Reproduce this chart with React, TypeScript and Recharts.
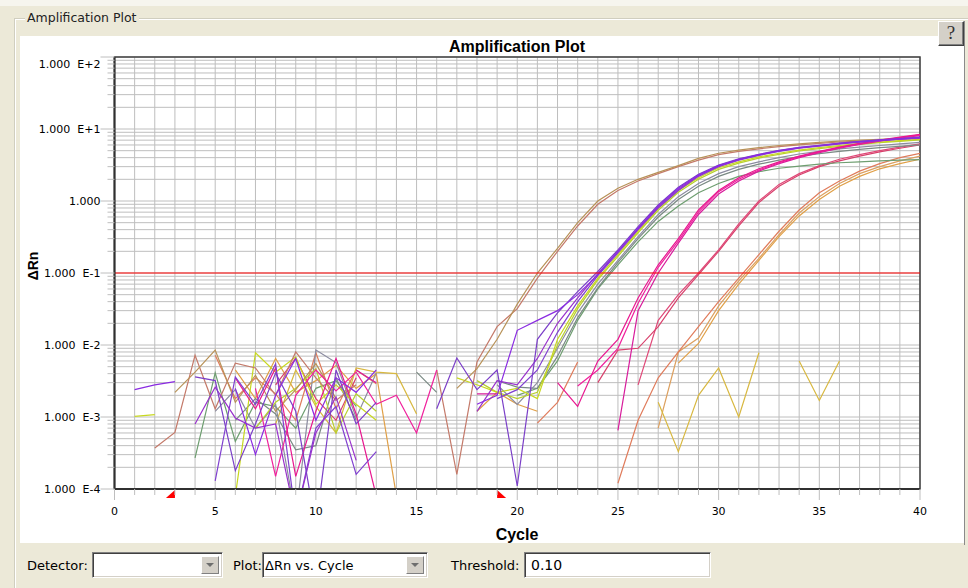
import React from 'react';
import {
  LineChart,
  Line,
  XAxis,
  YAxis,
  CartesianGrid,
  ReferenceLine,
  ReferenceArea,
  ReferenceDot,
} from 'recharts';

const n = null;

const cycles = [1, 2, 3, 4, 5, 6, 7, 8, 9, 10, 11, 12, 13, 14, 15, 16, 17, 18, 19, 20,
  21, 22, 23, 24, 25, 26, 27, 28, 29, 30, 31, 32, 33, 34, 35, 36, 37, 38, 39, 40];

const purple1 = [0.0024, 0.0028, 0.0031, n, n, 0.0025, 0.0003, 0.002, 0.0065, 0.0009, 0.0035, 0.0022, 0.0045, n, n, n, n, 0.0015, 0.002, 0.016, 0.022, 0.03, 0.05, 0.095, 0.2, 0.42, 0.85, 1.5, 2.3, 3.1, 3.8, 4.4, 5.0, 5.5, 5.9, 6.3, 6.7, 7.0, 7.3, 7.6];
const purple2 = [n, n, n, 0.0036, 0.0032, 0.00018, 0.0008, 0.0041, 0.0012, 0.00003, 0.0045, 0.0008, 0.0016, n, n, 0.0013, 0.0066, 0.0024, 0.0045, 0.00011, 0.012, 0.028, 0.055, 0.105, 0.21, 0.44, 0.88, 1.55, 2.35, 3.15, 3.85, 4.45, 5.05, 5.55, 5.95, 6.35, 6.75, 7.05, 7.35, 7.7];
const purple3 = [n, n, n, 0.0008, 0.0026, 0.00097, 0.0007, 0.0008, 0.00004, 0.0006, 0.0019, 0.00025, n, n, n, n, n, 0.0012, 0.0032, 0.0028, 0.0065, 0.02, 0.045, 0.098, 0.2, 0.41, 0.83, 1.45, 2.25, 3.05, 3.75, 4.35, 4.95, 5.45, 5.85, 6.25, 6.6, 6.95, 7.25, 7.55];
const purple4 = [n, n, n, n, 0.00013, 0.0036, 0.0015, 0.0055, 0.00004, 0.0007, 0.0014, 0.00016, 0.00033, n, n, n, n, n, 0.0018, 0.0024, 0.0045, 0.015, 0.04, 0.092, 0.19, 0.4, 0.8, 1.4, 2.2, 3.0, 3.7, 4.3, 4.9, 5.4, 5.8, 6.2, 6.55, 6.9, 7.2, 7.5];
const yellowGreen1 = [0.00102, 0.00108, n, n, n, 0.00008, 0.0078, 0.0042, 0.0068, 0.0015, 0.0028, 0.0015, 0.0009, n, n, n, 0.0035, 0.0028, 0.0022, 0.0025, 0.0018, 0.012, 0.035, 0.085, 0.18, 0.38, 0.78, 1.4, 2.1, 2.9, 3.5, 4.1, 4.6, 5.1, 5.5, 5.9, 6.3, 6.6, 6.9, 7.2];
const yellowGreen2 = [n, n, n, n, n, n, 0.0007, 0.0016, 0.0025, 0.0047, 0.0006, 0.0021, 0.0012, n, n, n, n, 0.0032, 0.0022, 0.0018, 0.0022, 0.01, 0.032, 0.08, 0.17, 0.36, 0.74, 1.32, 2.0, 2.75, 3.35, 3.95, 4.45, 4.95, 5.35, 5.75, 6.1, 6.45, 6.75, 7.05];
const gray1 = [n, n, n, n, 0.0012, 0.0024, 0.0007, 0.0015, 0.00004, 0.0085, 0.0057, 0.00098, 0.0041, n, n, n, n, n, 0.0028, 0.0015, 0.003, 0.009, 0.028, 0.07, 0.15, 0.32, 0.65, 1.15, 1.75, 2.4, 3.0, 3.5, 4.0, 4.5, 4.9, 5.3, 5.6, 5.9, 6.2, 6.5];
const gray2 = [n, n, n, n, n, 0.0009, 0.0018, 0.0011, 0.00035, 0.0004, 0.0035, 0.0009, n, n, 0.0042, 0.0022, n, n, 0.0032, 0.0026, 0.0025, 0.007, 0.024, 0.062, 0.14, 0.3, 0.6, 1.05, 1.6, 2.2, 2.75, 3.25, 3.7, 4.15, 4.55, 4.9, 5.2, 5.5, 5.75, 6.0];
const green1 = [n, n, n, 0.00027, 0.0041, 0.00046, 0.0016, 0.0014, 0.0007, 0.0025, 0.0032, 0.0014, n, n, n, n, n, n, n, 0.002, 0.0025, 0.006, 0.022, 0.06, 0.13, 0.27, 0.52, 0.85, 1.3, 1.75, 2.2, 2.55, 2.85, 3.05, 3.25, 3.4, 3.5, 3.6, 3.7, 3.75];
const tan1 = [n, n, 0.0022, 0.0042, 0.0085, 0.0016, 0.0038, 0.0012, 0.0024, 0.0055, 0.0018, n, n, n, n, n, 0.0025, 0.0047, 0.012, 0.037, 0.1, 0.22, 0.5, 1.0, 1.5, 2.0, 2.5, 3.1, 3.9, 4.6, 5.1, 5.5, 5.9, 6.2, 6.5, 6.8, 7.0, 7.2, 7.4, 7.6];
const brownPink1 = [n, 0.00037, 0.00061, 0.0072, 0.0013, 0.0056, 0.0048, 0.002, 0.008, 0.0035, 0.0017, 0.0028, n, n, n, 0.0045, 0.00016, 0.0058, 0.018, 0.032, 0.085, 0.2, 0.45, 0.9, 1.4, 1.9, 2.4, 3.0, 3.7, 4.4, 4.9, 5.3, 5.7, 6.0, 6.3, 6.6, 6.8, 7.0, 7.2, 7.4];
const magenta1 = [n, n, n, n, n, 0.0035, 0.0013, 0.0048, 0.00015, 0.0012, 0.0065, 0.0011, 0.00008, n, n, n, n, n, n, n, n, 0.003, 0.0014, 0.006, 0.012, 0.045, 0.13, 0.3, 0.75, 1.4, 2.1, 2.8, 3.5, 4.2, 4.9, 5.6, 6.3, 7.0, 7.7, 8.4];
const magenta2 = [n, n, n, n, n, n, 0.0025, 0.00015, 0.002, 0.0045, 0.0023, 0.0042, 0.0015, 0.002, 0.0006, 0.0045, n, n, n, n, n, n, 0.0027, 0.0045, 0.009, 0.038, 0.12, 0.28, 0.7, 1.35, 2.0, 2.7, 3.4, 4.1, 4.8, 5.5, 6.2, 6.9, 7.6, 8.3];
const magenta3 = [n, n, n, n, n, n, n, n, n, n, n, 0.0045, 0.003, n, n, n, n, 0.0021, 0.0021, n, n, n, n, n, 0.00065, 0.03, 0.1, 0.26, 0.65, 1.25, 1.9, 2.6, 3.3, 4.0, 4.7, 5.4, 6.1, 6.8, 7.5, 8.1];
const crimson1 = [n, n, n, n, n, n, n, 0.0028, 0.0065, 0.0018, 0.0009, 0.0035, n, n, n, n, n, n, n, n, n, n, n, 0.003, 0.0085, 0.009, 0.018, 0.045, 0.095, 0.2, 0.45, 0.95, 1.6, 2.3, 3.0, 3.6, 4.2, 4.8, 5.4, 6.0];
const crimson2 = [n, n, n, n, n, n, n, n, n, n, n, n, n, n, n, n, n, n, n, n, n, n, n, n, n, 0.0028, 0.022, 0.05, 0.1, 0.21, 0.48, 1.0, 1.7, 2.4, 3.1, 3.8, 4.4, 5.0, 5.6, 6.2];
const salmon1 = [n, n, n, n, 0.0072, 0.0018, 0.0035, 0.0021, 0.0009, 0.0078, 0.0013, 0.0045, 0.0029, n, n, n, n, n, n, n, 0.00082, 0.0016, 0.0058, n, 0.00012, 0.0009, 0.0035, 0.008, 0.018, 0.04, 0.085, 0.18, 0.38, 0.75, 1.3, 1.9, 2.6, 3.3, 4.0, 4.6];
const orange1 = [n, n, n, n, n, 0.0045, 0.0018, 0.0065, 0.0022, 0.0032, 0.0052, 0.0025, 0.004, 0.00008, n, n, n, 0.0012, 0.0022, 0.0015, 0.0012, n, n, n, n, n, n, 0.0056, 0.0105, 0.03, 0.07, 0.15, 0.32, 0.62, 1.05, 1.6, 2.2, 2.8, 3.3, 3.8];
const orange2 = [n, n, n, n, n, n, n, n, n, n, n, n, n, n, n, n, n, n, n, n, n, n, n, n, n, n, 0.0007, 0.008, 0.0125, 0.035, 0.078, 0.16, 0.34, 0.68, 1.15, 1.75, 2.4, 3.0, 3.6, 4.2];
const gold1 = [n, n, n, n, n, n, n, 0.0008, 0.0045, 0.0014, 0.0006, 0.0048, 0.0042, 0.004, 0.0011, n, n, n, n, n, n, n, n, n, n, n, 0.0016, 0.00033, 0.002, 0.0048, 0.001, 0.0078, n, 0.006, 0.0017, 0.006, n, n, n, n];

const seriesDefs = [
  { key: 'orange2', color: '#DCA060', values: orange2 },
  { key: 'orange1', color: '#E0A048', values: orange1 },
  { key: 'salmon1', color: '#E07C5C', values: salmon1 },
  { key: 'crimson2', color: '#E04878', values: crimson2 },
  { key: 'crimson1', color: '#D8406C', values: crimson1 },
  { key: 'gold1', color: '#D8B840', values: gold1 },
  { key: 'green1', color: '#6E9E70', values: green1 },
  { key: 'gray2', color: '#7A8A84', values: gray2 },
  { key: 'gray1', color: '#8C8CA0', values: gray1 },
  { key: 'yellowGreen2', color: '#B8D030', values: yellowGreen2 },
  { key: 'yellowGreen1', color: '#C8D820', values: yellowGreen1 },
  { key: 'brownPink1', color: '#C47A6A', values: brownPink1 },
  { key: 'tan1', color: '#B89258', values: tan1 },
  { key: 'magenta3', color: '#D81C9C', values: magenta3 },
  { key: 'magenta2', color: '#F0209C', values: magenta2 },
  { key: 'magenta1', color: '#E81890', values: magenta1 },
  { key: 'purple4', color: '#8040D0', values: purple4 },
  { key: 'purple3', color: '#9932CC', values: purple3 },
  { key: 'purple2', color: '#7B3FC8', values: purple2 },
  { key: 'purple1', color: '#8A2BE2', values: purple1 },
];

const thresholdValue = 0.1;
const baselineStart = 3;
const baselineEnd = 19;
const yMin = 0.0001;
const yMax = 100;
const xMin = 0;
const xMax = 40;
const xTicks = [0, 1, 2, 3, 4, 5, 6, 7, 8, 9, 10, 11, 12, 13, 14, 15, 16, 17, 18, 19, 20,
  21, 22, 23, 24, 25, 26, 27, 28, 29, 30, 31, 32, 33, 34, 35, 36, 37, 38, 39, 40];
const yDecades = [0.0001, 0.001, 0.01, 0.1, 1, 10, 100];
const yDecadeLabels = ['1.000\u00A0\u00A0E-4', '1.000\u00A0\u00A0E-3', '1.000\u00A0\u00A0E-2', '1.000\u00A0\u00A0E-1', '1.000', '1.000\u00A0\u00A0E+1', '1.000\u00A0\u00A0E+2'];
const yMinorMultipliers = [1, 2, 3, 4, 5, 6, 7, 8, 9];
const yTicks = yDecades
  .slice(0, -1)
  .flatMap((d) => yMinorMultipliers.map((m) => m * d))
  .concat([yMax]);

const rows = cycles.map((c, i) => {
  const row: Record<string, number | null> = { cycle: c };
  seriesDefs.forEach((s) => {
    row[s.key] = s.values[i];
  });
  return row;
});

const FONT = '"DejaVu Sans", Verdana, sans-serif';
const GRID = '#BEBEBE';

const XTick = (props: any) => {
  const { x, y, payload } = props;
  const v = payload.value;
  const major = v % 5 === 0;
  return (
    <g>
      <line x1={x} x2={x} y1={y} y2={y + (major ? 11 : 6)} stroke={GRID} strokeWidth={1} />
      {major && (
        <text x={x} y={y + 26} textAnchor="middle" fontSize={11} fontFamily={FONT} fill="#000">
          {v}
        </text>
      )}
    </g>
  );
};

const YTick = (props: any) => {
  const { x, y, payload } = props;
  const v = payload.value;
  const idx = yDecades.findIndex((d) => Math.abs(v - d) / d < 1e-6);
  const major = idx >= 0;
  const isTop = idx === yDecades.length - 1;
  return (
    <g>
      <line x1={x - (major ? 14 : 7)} x2={x} y1={y} y2={y} stroke={GRID} strokeWidth={1} />
      {major && (
        <text x={x - 14} y={y + 4 + (isTop ? 7 : 0)} textAnchor="end" fontSize={11} fontFamily={FONT} fill="#000">
          {yDecadeLabels[idx]}
        </text>
      )}
    </g>
  );
};

const LeftMarker = (props: any) => {
  const { cx, cy } = props;
  return <polygon points={`${cx},${cy + 1} ${cx},${cy + 9} ${cx - 9},${cy + 9}`} fill="#FF0000" />;
};
const RightMarker = (props: any) => {
  const { cx, cy } = props;
  return <polygon points={`${cx},${cy + 1} ${cx},${cy + 9} ${cx + 9},${cy + 9}`} fill="#FF0000" />;
};

const inset = {
  borderTop: '1px solid #808080',
  borderLeft: '1px solid #808080',
  borderBottom: '1px solid #FFFFFF',
  borderRight: '1px solid #FFFFFF',
  boxShadow: 'inset 1px 1px 0 #404040, inset -1px -1px 0 #D4D0C8',
  background: '#FFFFFF',
  boxSizing: 'border-box' as const,
};

const DropButton = ({ left }: { left: number }) => (
  <div
    style={{
      position: 'absolute',
      left,
      top: 3,
      width: 18,
      height: 18,
      background: '#D4D0C8',
      borderTop: '1px solid #FFFFFF',
      borderLeft: '1px solid #FFFFFF',
      borderRight: '1px solid #808080',
      borderBottom: '1px solid #808080',
      boxSizing: 'border-box',
    }}
  >
    <svg width={16} height={16} style={{ position: 'absolute', left: 0, top: 0 }}>
      <polygon points="4,6 12,6 8,10" fill="#6E6E6E" />
    </svg>
  </div>
);

export default function App() {
  return (
    <div
      style={{
        position: 'absolute',
        left: 0,
        top: 0,
        width: 968,
        height: 588,
        background: '#ECE9D8',
        overflow: 'hidden',
        fontFamily: FONT,
      }}
    >
      <div style={{ position: 'absolute', left: 0, top: 0, width: 968, height: 6, background: '#F6F5EE' }} />
      <div
        style={{
          position: 'absolute',
          left: 14,
          top: 18,
          width: 960,
          height: 580,
          borderTop: '1px solid #D0CEBF',
          borderLeft: '1px solid #D0CEBF',
          boxShadow: 'inset 1px 1px 0 #FFFFFF',
          boxSizing: 'border-box',
        }}
      />
      <div
        style={{
          position: 'absolute',
          left: 25,
          top: 10,
          padding: '0 2px',
          background: '#ECE9D8',
          fontSize: 12.5,
          color: '#222',
          lineHeight: '16px',
        }}
      >
        Amplification Plot
      </div>
      <div style={{ position: 'absolute', left: 20, top: 36, width: 944, height: 507, background: '#FFFFFF' }} />
      <div style={{ position: 'absolute', left: 964, top: 21, width: 1, height: 524, background: '#8A8A8A' }} />
      <div
        style={{
          position: 'absolute',
          left: 938,
          top: 21,
          width: 26,
          height: 25,
          background: '#D4D0C8',
          borderTop: '1px solid #FFFFFF',
          borderLeft: '1px solid #FFFFFF',
          borderRight: '1px solid #404040',
          borderBottom: '1px solid #404040',
          boxShadow: 'inset -1px -1px 0 #808080',
          boxSizing: 'border-box',
          textAlign: 'center',
          fontFamily: '"Liberation Serif", "DejaVu Serif", serif',
          fontSize: 19,
          lineHeight: '22px',
          color: '#333',
        }}
      >
        ?
      </div>

      <div
        style={{
          position: 'absolute',
          left: 317,
          top: 39,
          width: 400,
          textAlign: 'center',
          fontFamily: '"Liberation Sans", Arial, sans-serif',
          fontWeight: 'bold',
          fontSize: 16,
          lineHeight: '16px',
          color: '#000',
        }}
      >
        Amplification Plot
      </div>
      <div
        style={{
          position: 'absolute',
          left: 417,
          top: 527,
          width: 200,
          textAlign: 'center',
          fontFamily: '"Liberation Sans", Arial, sans-serif',
          fontWeight: 'bold',
          fontSize: 16,
          lineHeight: '16px',
          color: '#000',
        }}
      >
        Cycle
      </div>
      <div
        style={{
          position: 'absolute',
          left: 33,
          top: 266,
          transform: 'translate(-50%, -50%) rotate(-90deg)',
          fontFamily: '"Liberation Sans", Arial, sans-serif',
          fontWeight: 'bold',
          fontSize: 14,
          lineHeight: '14px',
          whiteSpace: 'nowrap',
          color: '#000',
        }}
      >
        ΔRn
      </div>

      <div style={{ position: 'absolute', left: 0, top: 0 }}>
        <LineChart width={968} height={545} data={rows} margin={{ top: 57, right: 48, left: 0, bottom: 0 }}>
          <CartesianGrid stroke={GRID} strokeWidth={1} />
          <XAxis
            dataKey="cycle"
            type="number"
            domain={[xMin, xMax]}
            ticks={xTicks}
            interval={0}
            tick={<XTick />}
            tickLine={false}
            tickSize={0}
            tickMargin={0}
            height={56}
            axisLine={{ stroke: '#303030', strokeWidth: 2 }}
            allowDataOverflow
          />
          <YAxis
            type="number"
            scale="log"
            domain={[yMin, yMax]}
            ticks={yTicks}
            interval={0}
            tick={<YTick />}
            tickLine={false}
            tickSize={0}
            tickMargin={0}
            width={114.5}
            axisLine={{ stroke: '#303030', strokeWidth: 2 }}
            allowDataOverflow
          />
          {seriesDefs.map((s) => (
            <Line
              key={s.key}
              type="linear"
              dataKey={s.key}
              stroke={s.color}
              strokeWidth={1.2}
              dot={false}
              activeDot={false}
              connectNulls={false}
              isAnimationActive={false}
            />
          ))}
          <ReferenceLine y={thresholdValue} stroke="#FF0000" strokeWidth={1} ifOverflow="visible" />
          <ReferenceArea
            x1={xMin}
            x2={xMax}
            y1={yMin}
            y2={yMax}
            fill="none"
            fillOpacity={0}
            stroke="#404040"
            strokeWidth={1.5}
            ifOverflow="visible"
          />
          <ReferenceDot x={baselineStart} y={yMin} r={0} ifOverflow="visible" shape={<LeftMarker />} />
          <ReferenceDot x={baselineEnd} y={yMin} r={0} ifOverflow="visible" shape={<RightMarker />} />
        </LineChart>
      </div>

      <div style={{ position: 'absolute', left: 27, top: 558, fontSize: 13, lineHeight: '16px', color: '#000' }}>Detector:</div>
      <div style={{ ...inset, position: 'absolute', left: 92, top: 552, width: 131, height: 26 }}>
        <DropButton left={108} />
      </div>
      <div style={{ position: 'absolute', left: 233, top: 558, fontSize: 13, lineHeight: '16px', color: '#000' }}>Plot:</div>
      <div style={{ ...inset, position: 'absolute', left: 262, top: 552, width: 166, height: 26 }}>
        <div style={{ position: 'absolute', left: 2, top: 5, fontSize: 13, lineHeight: '16px', color: '#000', whiteSpace: 'nowrap' }}>
          ΔRn vs. Cycle
        </div>
        <DropButton left={143} />
      </div>
      <div style={{ position: 'absolute', left: 451, top: 558, fontSize: 13, lineHeight: '16px', color: '#000' }}>Threshold:</div>
      <div style={{ ...inset, position: 'absolute', left: 524, top: 552, width: 187, height: 26 }}>
        <div style={{ position: 'absolute', left: 6, top: 4, fontSize: 14, lineHeight: '16px', color: '#000' }}>0.10</div>
      </div>
    </div>
  );
}
